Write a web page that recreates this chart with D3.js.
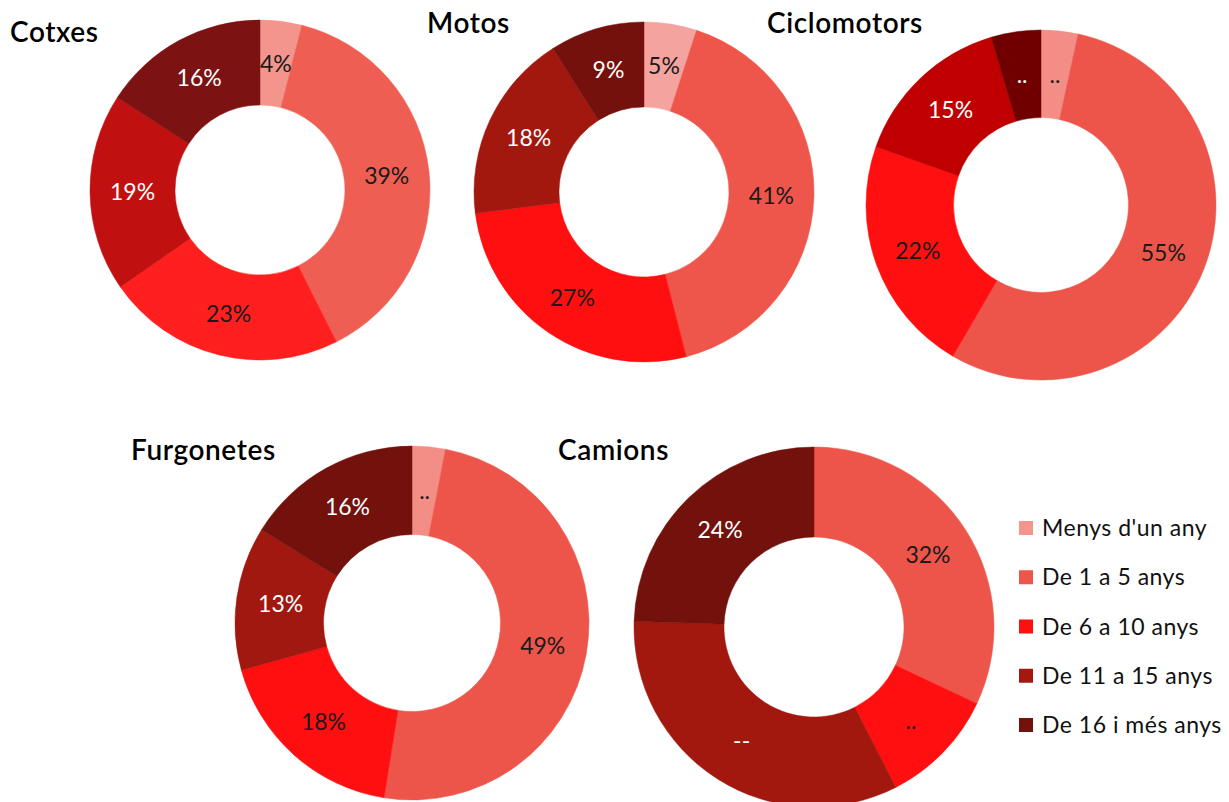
<!DOCTYPE html>
<html><head><meta charset="utf-8">
<script src="https://cdn.jsdelivr.net/npm/d3@7/dist/d3.min.js"></script>
<style>
html,body{margin:0;padding:0;background:#fff;}
svg{display:block;}
</style></head>
<body><svg id="chart" width="1229" height="802"></svg>
<script>
// ---- DATA ----
const categories = ["Menys d'un any", "De 1 a 5 anys", "De 6 a 10 anys", "De 11 a 15 anys", "De 16 i més anys"];
const vehicles = ["Cotxes", "Motos", "Ciclomotors", "Furgonetes", "Camions"];
const cotxesValues = [4, 39, 23, 19, 16];
const motosValues = [5, 41, 27, 18, 9];
const ciclomotorsValues = [3.4, 55, 22, 15, 4.6];
const furgonetesValues = [3, 49, 18, 13, 16];
const camionsValues = [0, 32, 10.5, 33, 24.5];
const cotxesLabels = ["4%", "39%", "23%", "19%", "16%"];
const motosLabels = ["5%", "41%", "27%", "18%", "9%"];
const ciclomotorsLabels = ["..", "55%", "22%", "15%", ".."];
const furgonetesLabels = ["..", "49%", "18%", "13%", "16%"];
const camionsLabels = ["", "32%", "..", "--", "24%"];

// ---- STYLE / LAYOUT ----
const legendColors = ["#F4958D", "#EE564B", "#FF1010", "#A3180F", "#74110C"];
const palettes = [
  ["#F4958D", "#EF5E53", "#FF1F1F", "#C11010", "#7C1212"],
  ["#F5A39E", "#EE564B", "#FF0F0F", "#A2180F", "#75110C"],
  ["#F28E86", "#EE554A", "#FF0F0F", "#C00000", "#700000"],
  ["#F28E86", "#EE554A", "#FF0F0F", "#A0180F", "#73110C"],
  ["#F28E86", "#EE554A", "#FF0F0F", "#A2180F", "#73110C"]
];
const layout = [
  {cx: 260, cy: 190, r: 170, tx: 10, ty: 42},
  {cx: 644, cy: 192, r: 170, tx: 427, ty: 33},
  {cx: 1041, cy: 205, r: 175, tx: 767, ty: 33},
  {cx: 412, cy: 623, r: 177, tx: 131, ty: 460},
  {cx: 814, cy: 627, r: 180, tx: 558, ty: 460}
];
const labelColors = ["#1a1a1a", "#1a1a1a", "#1a1a1a", "#ffffff", "#ffffff"];

const allValues = [cotxesValues, motosValues, ciclomotorsValues, furgonetesValues, camionsValues];
const allLabels = [cotxesLabels, motosLabels, ciclomotorsLabels, furgonetesLabels, camionsLabels];

const svg = d3.select("#chart");
svg.append("rect").attr("width", 1229).attr("height", 802).attr("fill", "#fff");

const pie = d3.pie().sort(null).value(d => d.v);

vehicles.forEach((name, i) => {
  const L = layout[i];
  const data = allValues[i].map((v, k) => ({v, label: allLabels[i][k], k}));
  const arc = d3.arc().innerRadius(L.r * 0.5).outerRadius(L.r);
  const g = svg.append("g").attr("transform", `translate(${L.cx},${L.cy})`);
  const arcs = pie(data);
  g.selectAll("path").data(arcs).join("path")
    .attr("d", arc)
    .attr("fill", d => palettes[i][d.data.k])
    .attr("stroke", d => palettes[i][d.data.k])
    .attr("stroke-width", 0.5);
  g.selectAll("text").data(arcs.filter(d => d.data.label !== "")).join("text")
    .attr("transform", d => `translate(${arc.centroid(d)})`)
    .attr("text-anchor", "middle")
    .attr("dy", "0.36em")
    .attr("font-family", "Lato, 'Open Sans', sans-serif")
    .attr("font-size", 23)
    .attr("fill", d => labelColors[d.data.k])
    .text(d => d.data.label);
  svg.append("text")
    .attr("x", L.tx).attr("y", L.ty)
    .attr("font-family", "Lato, sans-serif")
    .attr("font-weight", 600)
    .attr("font-size", 28)
    .attr("letter-spacing", 0.6)
    .attr("fill", "#000")
    .text(name);
});

// legend
const legend = svg.append("g").attr("transform", "translate(1019,528)");
const ly = d3.scalePoint().domain(categories).range([0, 197]);
categories.forEach((c, k) => {
  const row = legend.append("g").attr("transform", `translate(0,${ly(c)})`);
  row.append("rect").attr("x", 0).attr("y", -7).attr("width", 14).attr("height", 14).attr("fill", legendColors[k]);
  row.append("text").attr("x", 23).attr("y", 0).attr("dy", "0.35em")
    .attr("font-family", "Lato, sans-serif").attr("font-size", 23).attr("letter-spacing", 0.5)
    .attr("fill", "#111").text(c);
});
</script></body></html>
